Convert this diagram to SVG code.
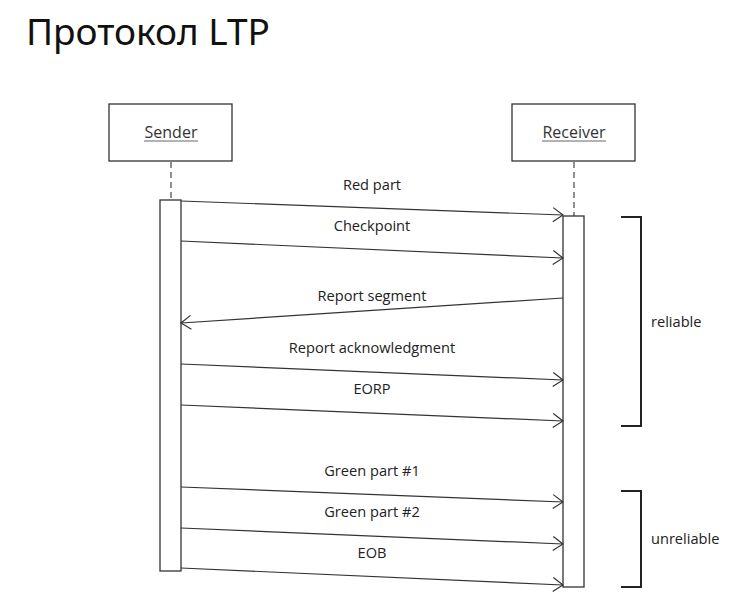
<svg xmlns="http://www.w3.org/2000/svg" width="742" height="609" viewBox="0 0 742 609">
<style>
.t{font-family:"Open Sans","Noto Sans",sans-serif;font-size:14.6px;fill:#222;text-anchor:middle}
.h{font-family:"Open Sans","Noto Sans",sans-serif;font-size:16px;fill:#333;text-anchor:middle}
.l{font-family:"Open Sans","Noto Sans",sans-serif;font-size:14.6px;fill:#222}
.box{fill:#fff;stroke:#333;stroke-width:1.3}
.msg{fill:none;stroke:#333;stroke-width:1.2;marker-end:url(#arr)}
.dash{stroke:#555;stroke-width:1.3;stroke-dasharray:6 4}
.br{fill:none;stroke:#222;stroke-width:2}
</style>
<defs>
<marker id="arr" markerWidth="12" markerHeight="16" refX="11" refY="8" orient="auto" markerUnits="userSpaceOnUse">
<path d="M1,1 L11,8 L1,15" fill="none" stroke="#333" stroke-width="1.2"/>
</marker>
</defs>
<rect width="742" height="609" fill="#fff"/>
<text x="26" y="45" font-family="'Noto Sans','Open Sans',sans-serif" font-size="37" fill="#111">Протокол LTP</text>

<g id="sender">
<rect class="box" x="109" y="104" width="123" height="57"/>
<text class="h" x="171" y="138">Sender</text>
<line x1="144" y1="141" x2="198" y2="141" stroke="#666" stroke-width="1"/>
<line class="dash" x1="171" y1="162" x2="171" y2="200"/>
<rect class="box" x="160" y="200" width="21" height="371"/>
</g>

<g id="receiver">
<rect class="box" x="512" y="104" width="123" height="57"/>
<text class="h" x="574" y="138">Receiver</text>
<line x1="542" y1="141" x2="606" y2="141" stroke="#666" stroke-width="1"/>
<line class="dash" x1="574" y1="162" x2="574" y2="216"/>
<rect class="box" x="563" y="216" width="21" height="371"/>
</g>

<g id="connectors">
<path class="msg" d="M181,201 L563,215"/>
<path class="msg" d="M181,241 L563,258"/>
<path class="msg" d="M563,298 L181,323"/>
<path class="msg" d="M181,364 L563,380"/>
<path class="msg" d="M181,405 L563,421"/>
<path class="msg" d="M181,487 L563,502"/>
<path class="msg" d="M181,528 L563,544"/>
<path class="msg" d="M181,568 L563,585"/>
</g>

<g id="labels">
<text class="t" x="372" y="190">Red part</text>
<text class="t" x="372" y="231">Checkpoint</text>
<text class="t" x="372" y="301">Report segment</text>
<text class="t" x="372" y="353">Report acknowledgment</text>
<text class="t" x="372" y="394">EORP</text>
<text class="t" x="372" y="476">Green part #1</text>
<text class="t" x="372" y="517">Green part #2</text>
<text class="t" x="372" y="558">EOB</text>
</g>

<g id="reliable">
<path class="br" d="M621,217 H641 V426 H621"/>
<text class="l" x="651" y="327">reliable</text>
</g>
<g id="unreliable">
<path class="br" d="M621,491 H641 V587 H621"/>
<text class="l" x="651" y="544">unreliable</text>
</g>
</svg>
